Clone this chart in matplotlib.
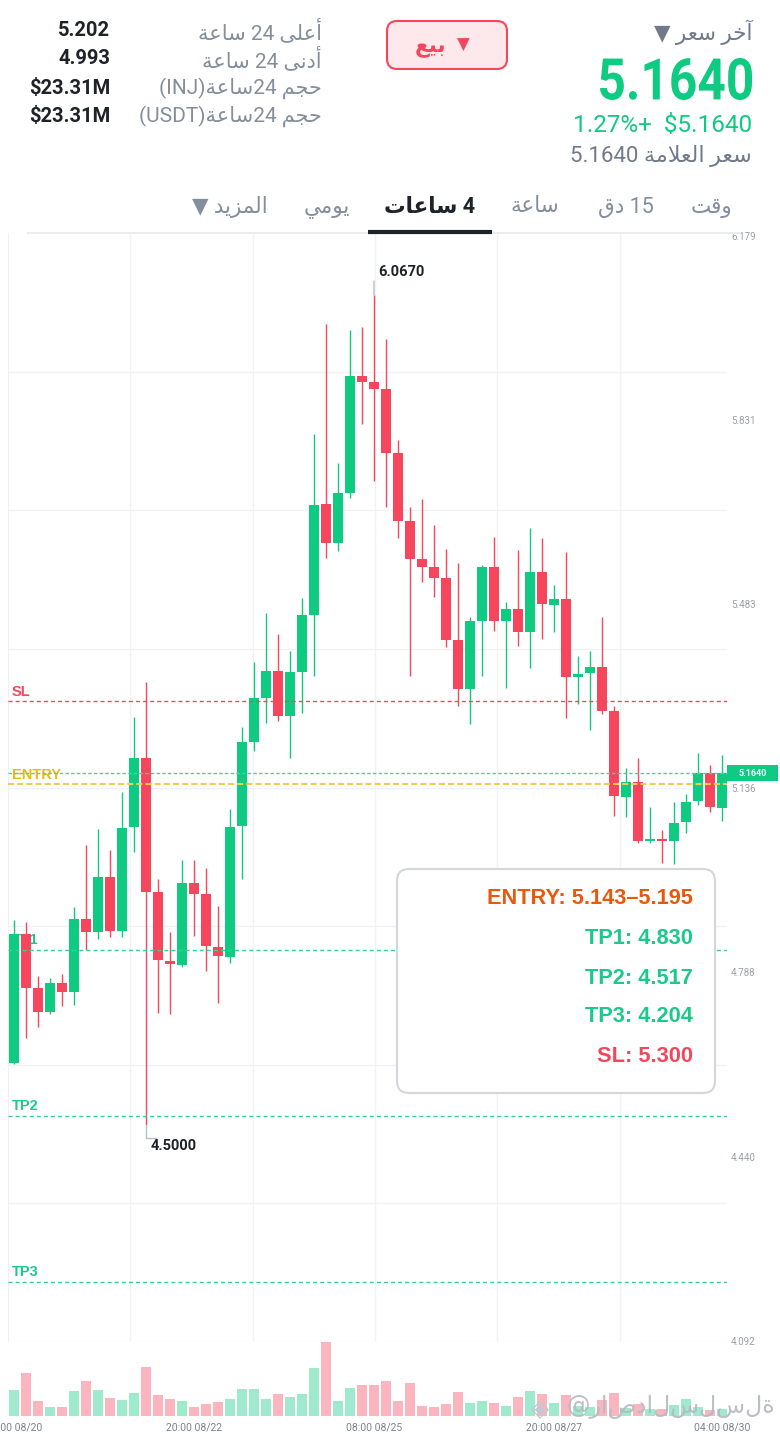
import numpy as np
import matplotlib
matplotlib.use('Agg')
import matplotlib.pyplot as plt
import matplotlib.transforms as mtrans
from matplotlib.patches import FancyBboxPatch, Rectangle, PathPatch
from matplotlib.lines import Line2D
from matplotlib.textpath import TextPath
from matplotlib.font_manager import FontProperties

# INJ/USDT 4h candles, 08:00 08/20 .. 04:00 08/30
opens = [4.617, 4.860, 4.758, 4.713, 4.768, 4.751, 4.889, 4.864, 4.968, 4.866,
         5.062, 5.193, 4.940, 4.809, 4.802, 4.957, 4.936, 4.836, 4.817, 5.064,
         5.223, 5.306, 5.357, 5.272, 5.355, 5.463, 5.672, 5.599, 5.693, 5.914,
         5.903, 5.889, 5.769, 5.640, 5.568, 5.553, 5.533, 5.415, 5.323, 5.451,
         5.553, 5.451, 5.474, 5.431, 5.544, 5.481, 5.493, 5.346, 5.353, 5.364,
         5.281, 5.119, 5.147, 5.036, 5.040, 5.036, 5.072, 5.111, 5.164, 5.098]
highs = [4.887, 4.883, 4.781, 4.777, 4.785, 4.911, 5.028, 5.059, 5.019, 5.128,
         5.270, 5.336, 4.964, 4.864, 5.000, 5.000, 4.985, 4.913, 5.096, 5.251,
         5.374, 5.466, 5.427, 5.395, 5.495, 5.804, 6.012, 5.750, 6.001, 6.006,
         6.067, 5.984, 5.793, 5.667, 5.682, 5.633, 5.587, 5.561, 5.459, 5.557,
         5.610, 5.487, 5.585, 5.627, 5.608, 5.519, 5.582, 5.385, 5.395, 5.459,
         5.291, 5.174, 5.193, 5.100, 5.057, 5.110, 5.125, 5.202, 5.179, 5.198]
lows = [4.614, 4.664, 4.685, 4.709, 4.724, 4.726, 4.830, 4.851, 4.855, 4.855,
        5.015, 4.500, 4.711, 4.709, 4.798, 4.857, 4.790, 4.730, 4.806, 4.964,
        5.206, 5.259, 5.263, 5.193, 5.278, 5.347, 5.570, 5.584, 5.684, 5.823,
        5.716, 5.667, 5.608, 5.347, 5.525, 5.497, 5.402, 5.291, 5.257, 5.347,
        5.432, 5.325, 5.404, 5.363, 5.417, 5.431, 5.268, 5.295, 5.246, 5.276,
        5.083, 5.081, 5.032, 5.032, 4.995, 4.993, 5.051, 5.104, 5.091, 5.074]
closes = [4.860, 4.758, 4.713, 4.768, 4.751, 4.889, 4.864, 4.968, 4.866, 5.060,
          5.193, 4.940, 4.811, 4.804, 4.957, 4.936, 4.838, 4.819, 5.062, 5.223,
          5.306, 5.357, 5.272, 5.355, 5.463, 5.670, 5.599, 5.693, 5.914, 5.903,
          5.889, 5.769, 5.640, 5.568, 5.553, 5.533, 5.415, 5.323, 5.451, 5.553,
          5.451, 5.474, 5.431, 5.544, 5.483, 5.493, 5.346, 5.351, 5.364, 5.281,
          5.121, 5.147, 5.036, 5.040, 5.036, 5.070, 5.110, 5.164, 5.100, 5.164]
volumes = [78, 131, 44, 28, 28, 75, 104, 77, 54, 48,
           69, 148, 63, 51, 45, 28, 36, 43, 52, 81,
           82, 51, 66, 57, 66, 144, 223, 44, 83, 93,
           94, 105, 45, 99, 31, 27, 36, 72, 39, 44,
           38, 29, 56, 76, 66, 40, 63, 30, 26, 48,
           70, 25, 35, 20, 22, 32, 50, 26, 18, 20]

date_pos = [0, 15, 30, 45, 59]
date_labels = ['08:00 08/20', '20:00 08/22', '08:00 08/25', '20:00 08/27', '04:00 08/30']
price_ticks = [4.092, 4.440, 4.788, 5.136, 5.483, 5.831, 6.179]

entry_lo, entry_hi = 5.143, 5.195
tp1, tp2, tp3 = 4.830, 4.517, 4.204
sl = 5.300
last_price = 5.1640
change_pct = 1.27
hi_24h, lo_24h = 5.202, 4.993
vol_inj, vol_usdt = '$23.31M', '$23.31M'

GREEN = '#0ECB81'
RED = '#F6465D'
GRAY = '#848E9C'
DARK = '#1E2329'
TPG = '#1CC98A'
AR = ['Roboto', 'DejaVu Sans']

# --- arabic shaping by hand (matplotlib has no shaping / bidi) ---
FORMS = {
    'ا': ('\uFE8D', '\uFE8E', None, None), 'آ': ('\uFE81', '\uFE82', None, None),
    'أ': ('\uFE83', '\uFE84', None, None), 'ب': ('\uFE8F', '\uFE90', '\uFE91', '\uFE92'),
    'ة': ('\uFE93', '\uFE94', None, None), 'ت': ('\uFE95', '\uFE96', '\uFE97', '\uFE98'),
    'ج': ('\uFE9D', '\uFE9E', '\uFE9F', '\uFEA0'), 'ح': ('\uFEA1', '\uFEA2', '\uFEA3', '\uFEA4'),
    'خ': ('\uFEA5', '\uFEA6', '\uFEA7', '\uFEA8'), 'د': ('\uFEA9', '\uFEAA', None, None),
    'ر': ('\uFEAD', '\uFEAE', None, None), 'ز': ('\uFEAF', '\uFEB0', None, None),
    'س': ('\uFEB1', '\uFEB2', '\uFEB3', '\uFEB4'), 'ع': ('\uFEC9', '\uFECA', '\uFECB', '\uFECC'),
    'ق': ('\uFED5', '\uFED6', '\uFED7', '\uFED8'), 'ل': ('\uFEDD', '\uFEDE', '\uFEDF', '\uFEE0'),
    'م': ('\uFEE1', '\uFEE2', '\uFEE3', '\uFEE4'), 'ن': ('\uFEE5', '\uFEE6', '\uFEE7', '\uFEE8'),
    'و': ('\uFEED', '\uFEEE', None, None), 'ى': ('\uFEEF', '\uFEF0', None, None),
    'ي': ('\uFEF1', '\uFEF2', '\uFEF3', '\uFEF4'),
}


def shape(word):
    out = []
    prev_joins = False
    i = 0
    while i < len(word):
        ch = word[i]
        if ch == 'ل' and i + 1 < len(word) and word[i + 1] == 'ا':
            out.append('\uFEFC' if prev_joins else '\uFEFB')
            prev_joins = False
            i += 2
            continue
        iso, fin, ini, med = FORMS[ch]
        nxt = word[i + 1] if i + 1 < len(word) else None
        joins_next = ini is not None and nxt in FORMS
        if prev_joins and joins_next:
            g = med
        elif prev_joins:
            g = fin
        elif joins_next:
            g = ini
        else:
            g = iso
        out.append(g)
        prev_joins = joins_next
        i += 1
    return ''.join(reversed(out))


W, H = 780, 1434
fig = plt.figure(figsize=(W / 100, H / 100), dpi=100)
fig.patch.set_facecolor('white')


def P(x, y):
    return x / 100, (H - y) / 100


def ftext(x, y, s, **kw):
    kw.setdefault('zorder', 3)
    return fig.text(*P(x, y), s, transform=fig.dpi_scale_trans, **kw)


# ---------------- price axes ----------------
ax = fig.add_axes([8 / W, (H - 1342) / H, 719 / W, 1109 / H])
vax = fig.add_axes([8 / W, (H - 1416) / H, 719 / W, 74 / H])
xlim = (-0.5, 59.42)
ax.set_xlim(*xlim)
ax.set_ylim(4.0898, 6.1838)

o = np.array(opens); h = np.array(highs); l = np.array(lows); c = np.array(closes)
x = np.arange(len(o))
up = c >= o
cols = np.where(up, GREEN, RED)

ylo, yhi = ax.get_ylim()
for yy in np.linspace(ylo, yhi, 9)[:-1]:
    ax.axhline(yy, color='#F1F2F4', lw=1, zorder=0)
for k in range(1, 6):
    ax.axvline(xlim[0] + k * 10.194, color='#F1F2F4', lw=1, zorder=0)

ax.vlines(x, l, h, colors=cols, lw=1, zorder=3)
ax.bar(x, np.maximum(np.abs(c - o), 0.004), bottom=np.minimum(o, c), width=0.83,
       color=cols, zorder=4)

for s in ['top', 'right', 'bottom']:
    ax.spines[s].set_visible(False)
ax.spines['left'].set_color('#EEF0F2')
ax.set_xticks([])
ax.yaxis.tick_right()
ax.set_yticks(price_ticks)
ax.set_yticklabels([f'{t:.3f}' for t in price_ticks])
ax.tick_params(axis='y', length=0, pad=3, labelsize=7, labelcolor='#9AA0A8')
for t in ax.get_yticklabels():
    t.set_family('Roboto')

# level lines
levels = [('SL', sl, RED, RED), ('TP1', tp1, '#2FD39A', TPG),
          ('TP2', tp2, '#2FD39A', TPG), ('TP3', tp3, '#2FD39A', TPG)]
for name, val, lc, tc in levels:
    ax.axhline(val, color=lc, lw=1, ls=(0, (2.9, 2.2)), zorder=5)
    ax.annotate(name, xy=(0, val), xycoords=('axes fraction', 'data'),
                xytext=(2.9, 1.8), textcoords='offset points', ha='left', va='bottom',
                fontsize=10.5, fontweight='bold', color=tc, family='Liberation Sans', zorder=2)

ax.axhline(last_price, color='#45D59C', lw=1, ls=(0, (2.5, 1.6)), zorder=5)
ax.axhline(entry_lo, color='#F4CB52', lw=1.5, ls=(0, (2.9, 1.5)), zorder=5)
ax.annotate('ENTRY', xy=(0, entry_lo), xycoords=('axes fraction', 'data'),
            xytext=(2.9, 1.6), textcoords='offset points', ha='left', va='bottom',
            fontsize=10.5, fontweight='bold', color='#EEB80E', family='Liberation Sans', zorder=2)

# last price tag
hh = 16 / 1109 * (yhi - ylo)
btr = mtrans.blended_transform_factory(ax.transAxes, ax.transData)
ax.add_patch(Rectangle((1.0, last_price - hh / 2), 51 / 719, hh, transform=btr,
                       clip_on=False, fc=GREEN, ec='none', zorder=6))
ax.text(1.0 + 25.5 / 719, last_price, f'{last_price:.4f}', transform=btr, ha='center',
        va='center', color='white', fontsize=6.5, fontweight='bold', family='Roboto',
        clip_on=False, zorder=7)

# high / low marks
imax = int(np.argmax(h)); imin = int(np.argmin(l))
ax.annotate('', xy=(imax, h[imax]), xytext=(0, 10), textcoords='offset points',
            arrowprops=dict(arrowstyle='-', color='#B8BEC7', lw=1, shrinkA=0, shrinkB=0))
ax.annotate(f'{h[imax]:.4f}', xy=(imax, h[imax]), xytext=(3, 16.5), textcoords='offset points',
            ha='left', va='center', fontsize=10.5, fontweight='bold', color=DARK, family='Roboto')
ax.annotate('', xy=(imin, l[imin]), xytext=(7, -9.4), textcoords='offset points',
            arrowprops=dict(arrowstyle='-', color='#B8BEC7', lw=1, shrinkA=0, shrinkB=0,
                            connectionstyle='angle,angleA=0,angleB=90,rad=0'))
ax.annotate(f'{l[imin]:.4f}', xy=(imin, l[imin]), xytext=(3, -15), textcoords='offset points',
            ha='left', va='center', fontsize=10.5, fontweight='bold', color=DARK, family='Roboto')

# ---------------- volume ----------------
vcols = np.where(up, '#9FEACD', '#FBB5BE')
vax.bar(x, volumes, width=0.83, color=vcols, zorder=2)
vax.set_xlim(*xlim)
vax.set_ylim(0, max(volumes))
for s in vax.spines.values():
    s.set_visible(False)
vax.set_yticks([])
vax.set_xticks(date_pos)
vax.set_xticklabels(date_labels)
vax.tick_params(axis='x', length=0, pad=5, labelsize=7.5, labelcolor='#7C8490')
for t in vax.get_xticklabels():
    t.set_family('Roboto')

# watermark
ftext(540, 1409, '◈', ha='center', va='center', fontsize=17, color='#C4C8CE', family='DejaVu Sans', zorder=4)
ftext(775, 1407, '@راصدالسلسلة', ha='right', va='center', fontsize=17, color='#B4B9C1',
      alpha=0.9, family='DejaVu Sans', zorder=4)

# ---------------- legend box ----------------
fig.add_artist(FancyBboxPatch(P(397, 1093), 3.18, 2.24, boxstyle='round,pad=0,rounding_size=0.12',
                              transform=fig.dpi_scale_trans, fc='white', ec='#D3D6DB', lw=1.5, zorder=5))
legend_rows = [(f'ENTRY: {entry_lo:.3f}–{entry_hi:.3f}', '#E8590C'),
               (f'TP1: {tp1:.3f}', TPG), (f'TP2: {tp2:.3f}', TPG),
               (f'TP3: {tp3:.3f}', TPG), (f'SL: {sl:.3f}', RED)]
for (txt, col), yy in zip(legend_rows, [898, 938, 978, 1016, 1056]):
    ftext(693, yy, txt, ha='right', va='center', fontsize=15.7, fontweight='bold', color=col,
          family='Liberation Sans', zorder=6)

# ---------------- header ----------------
fig.add_artist(Rectangle((0, (H - 232) / 100), W / 100, 2.32, transform=fig.dpi_scale_trans,
                         fc='white', ec='none', zorder=1))
fig.add_artist(Line2D([0.28, 7.40], [(H - 233) / 100] * 2, transform=fig.dpi_scale_trans,
                      color='#EAECEF', lw=1.5, zorder=2))
fig.add_artist(Line2D([3.68, 4.92], [(H - 231.5) / 100] * 2, transform=fig.dpi_scale_trans,
                      color=DARK, lw=3, zorder=3, solid_capstyle='butt'))

# right block
ftext(752, 32, '▼ ' + shape('سعر') + ' ' + shape('آخر'), ha='right', va='center', fontsize=15.5,
      color='#707A8A', family=AR)
tp = TextPath((0, 0), f'{last_price:.4f}', size=100, prop=FontProperties(family='Roboto', weight='bold'))
ext = tp.get_extents()
tr = (mtrans.Affine2D().translate(-ext.x0, -ext.y0)
      .scale(1.52 / ext.width, 0.42 / ext.height).translate(6.00, (H - 100) / 100)
      + fig.dpi_scale_trans)
fig.add_artist(PathPatch(tp, transform=tr, fc=GREEN, ec='none', zorder=3))
ftext(752, 126, f'{change_pct:.2f}%+  ${last_price:.4f}', ha='right', va='center', fontsize=17.5,
      color=GREEN, family='Roboto')
ftext(752, 156, f'{last_price:.4f} ' + shape('العلامة') + ' ' + shape('سعر'), ha='right',
      va='center', fontsize=16, color='#707A8A', family=AR)

# sell button
fig.add_artist(FancyBboxPatch(P(387, 69), 1.20, 0.48, boxstyle='round,pad=0,rounding_size=0.1',
                              transform=fig.dpi_scale_trans, fc='#FDE8EB', ec=RED, lw=1.5, zorder=2))
ftext(430, 47, shape('بيع'), ha='center', va='center', fontsize=15.5, fontweight='bold', color=RED, family=AR)
ftext(463, 45, '▼', ha='center', va='center', fontsize=12, color=RED, family='DejaVu Sans')

# left stats
stat_labels = [shape('ساعة') + ' 24 ' + shape('أعلى'),
               shape('ساعة') + ' 24 ' + shape('أدنى'),
               '(INJ)' + shape('ساعة') + '24 ' + shape('حجم'),
               '(USDT)' + shape('ساعة') + '24 ' + shape('حجم')]
stat_values = [f'{hi_24h:.3f}', f'{lo_24h:.3f}', vol_inj, vol_usdt]
for lab, val, yy in zip(stat_labels, stat_values, [31, 59, 88, 116]):
    ftext(322, yy, lab, ha='right', va='center', fontsize=15, color=GRAY, family=AR)
    ftext(110, yy, val, ha='right', va='center', fontsize=14.5, fontweight='bold', color=DARK,
          family='Roboto')

# tabs
tabs = [(712, shape('وقت'), False), (626, shape('دق') + ' 15', False),
        (535, shape('ساعة'), False), (430, shape('ساعات') + ' 4', True),
        (327, shape('يومي'), False), (230, '▼ ' + shape('المزيد'), False)]
for tx, lab, active in tabs:
    ftext(tx, 207, lab, ha='center', va='center', fontsize=15.5,
          fontweight='bold' if active else 'normal', color=DARK if active else GRAY, family=AR)

fig.savefig('out.png', dpi=100, facecolor='white')
